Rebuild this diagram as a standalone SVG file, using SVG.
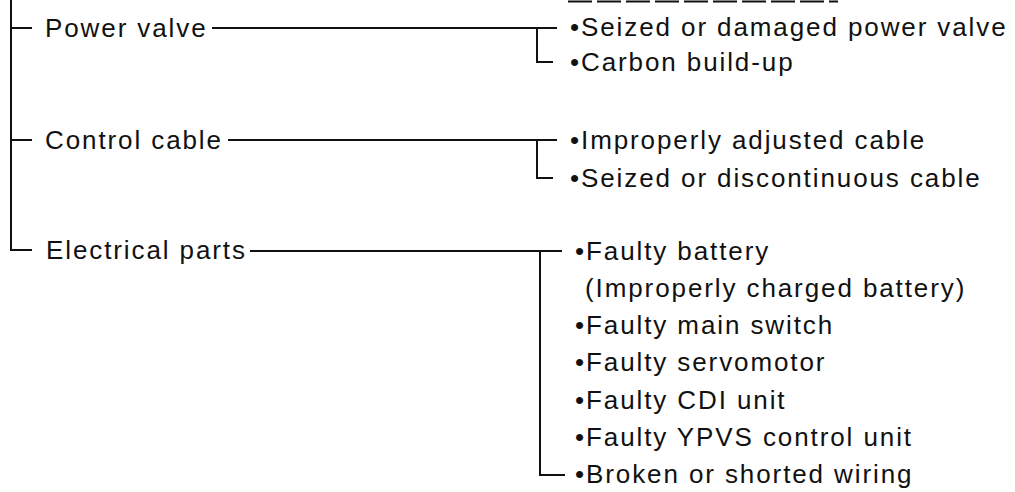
<svg xmlns="http://www.w3.org/2000/svg" width="1015" height="492" viewBox="0 0 1015 492">
<style>
text{font-family:"Liberation Sans",Arial,sans-serif;font-size:26px;letter-spacing:1.9px;fill:#111}
.ln{stroke:#111;stroke-width:2;fill:none}
</style>
<rect width="1015" height="492" fill="#fff"/>
<g id="connectors">
<path class="ln" d="M11 0V250H32M11 28H32M11 140H32"/>
<path class="ln" d="M212 28H557M537 28V62H553"/>
<path class="ln" d="M228 140H557M537 140V178H553"/>
<path class="ln" d="M250 251H562M540 251V475H565"/>
<path class="ln" stroke-dasharray="24 5" d="M568 1.5H838"/>
</g>
<g id="power-valve"><text x="45" y="37">Power valve</text></g>
<g id="control-cable"><text x="45" y="149">Control cable</text></g>
<g id="electrical-parts"><text x="46" y="259">Electrical parts</text></g>
<g id="power-valve-causes">
<text x="570" y="36">•Seized or damaged power valve</text>
<text x="570" y="71">•Carbon build-up</text>
</g>
<g id="control-cable-causes">
<text x="570" y="149">•Improperly adjusted cable</text>
<text x="570" y="187">•Seized or discontinuous cable</text>
</g>
<g id="electrical-causes">
<text x="575" y="260">•Faulty battery</text>
<text x="585" y="297">(Improperly charged battery)</text>
<text x="575" y="334">•Faulty main switch</text>
<text x="575" y="371">•Faulty servomotor</text>
<text x="575" y="409">•Faulty CDI unit</text>
<text x="575" y="446">•Faulty YPVS control unit</text>
<text x="575" y="483">•Broken or shorted wiring</text>
</g>
</svg>
